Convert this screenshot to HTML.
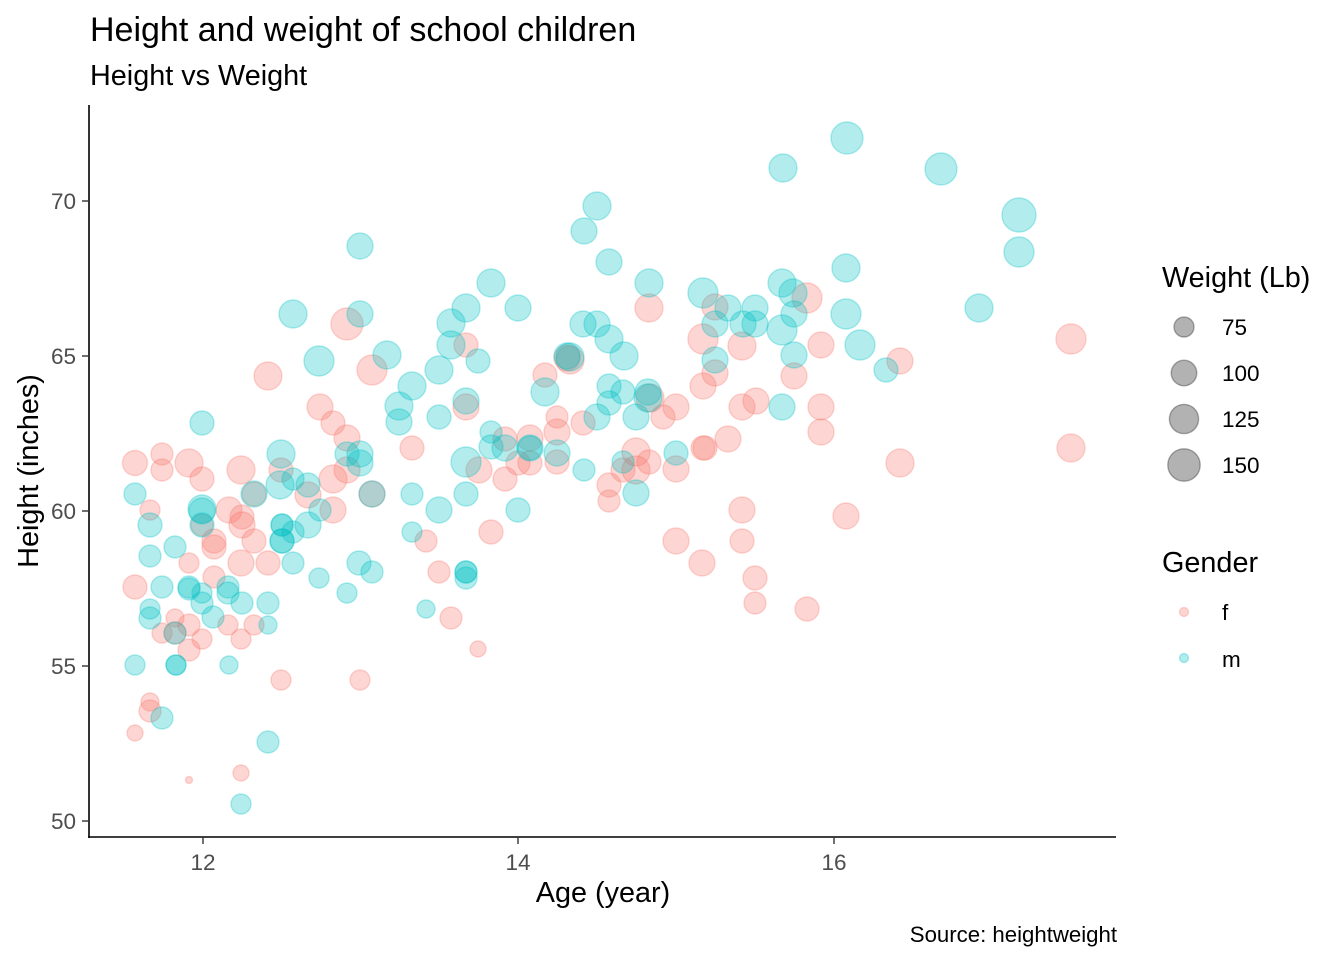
<!DOCTYPE html>
<html><head><meta charset="utf-8"><style>
html,body{margin:0;padding:0;background:#fff;}
svg{display:block;font-family:"Liberation Sans",Arial,sans-serif;}
.f{fill:rgba(248,118,109,0.3);stroke:rgba(248,118,109,0.3);stroke-width:1.4;}
.m{fill:rgba(0,191,196,0.3);stroke:rgba(0,191,196,0.3);stroke-width:1.4;}
.k{fill:rgba(0,0,0,0.3);stroke:rgba(0,0,0,0.3);stroke-width:1.4;}
.tk{fill:#4D4D4D;font-size:22.5px;}
</style></head><body>
<svg width="1344" height="960" viewBox="0 0 1344 960" xmlns="http://www.w3.org/2000/svg">
<rect width="1344" height="960" fill="#fff"/>
<text x="90" y="41" font-size="34" fill="#000">Height and weight of school children</text>
<text x="90" y="85" font-size="28.8" fill="#000">Height vs Weight</text>
<g>
<circle class="f" cx="135" cy="463" r="12.5"/><circle class="f" cx="162" cy="454" r="11"/><circle class="f" cx="162" cy="470" r="11"/><circle class="f" cx="189" cy="463" r="14"/><circle class="f" cx="202" cy="479" r="12"/><circle class="f" cx="241" cy="470" r="14"/><circle class="f" cx="281" cy="470" r="12"/><circle class="f" cx="308" cy="495" r="13"/><circle class="f" cx="333" cy="479" r="14"/><circle class="f" cx="347" cy="470" r="13"/><circle class="f" cx="347" cy="438" r="13"/><circle class="f" cx="333" cy="423" r="12"/><circle class="f" cx="320" cy="407" r="13"/><circle class="f" cx="412" cy="448" r="12"/><circle class="f" cx="150" cy="510" r="10"/><circle class="f" cx="202" cy="525" r="11"/><circle class="f" cx="254" cy="494" r="12"/><circle class="f" cx="229" cy="510" r="13"/><circle class="f" cx="242" cy="517" r="12"/><circle class="f" cx="242" cy="525" r="13"/><circle class="f" cx="254" cy="541" r="12"/><circle class="f" cx="214" cy="541" r="12"/><circle class="f" cx="214" cy="547" r="12"/><circle class="f" cx="333" cy="510" r="13"/><circle class="f" cx="372" cy="494" r="13"/><circle class="f" cx="189" cy="563" r="10"/><circle class="f" cx="214" cy="577" r="11"/><circle class="f" cx="241" cy="563" r="13"/><circle class="f" cx="268" cy="563" r="12"/><circle class="f" cx="135" cy="587" r="12"/><circle class="f" cx="175" cy="618" r="9"/><circle class="f" cx="189" cy="625" r="11"/><circle class="f" cx="162" cy="633" r="10"/><circle class="f" cx="175" cy="633" r="11"/><circle class="f" cx="202" cy="639" r="10"/><circle class="f" cx="228" cy="625" r="10"/><circle class="f" cx="254" cy="625" r="10"/><circle class="f" cx="241" cy="639" r="10"/><circle class="f" cx="189" cy="650" r="11"/><circle class="f" cx="281" cy="680" r="10"/><circle class="f" cx="360" cy="680" r="10"/><circle class="f" cx="150" cy="702" r="9"/><circle class="f" cx="150" cy="711" r="11"/><circle class="f" cx="135" cy="733" r="8"/><circle class="f" cx="241" cy="773" r="8"/><circle class="f" cx="189" cy="780" r="3.5"/><circle class="f" cx="347" cy="324" r="16"/><circle class="f" cx="268" cy="376" r="14"/><circle class="f" cx="372" cy="370" r="15"/><circle class="f" cx="466" cy="345" r="12"/><circle class="f" cx="466" cy="407" r="13"/><circle class="f" cx="545" cy="375" r="12"/><circle class="f" cx="567" cy="358" r="13"/><circle class="f" cx="557" cy="417" r="11"/><circle class="f" cx="557" cy="432" r="13"/><circle class="f" cx="505" cy="439" r="12"/><circle class="f" cx="530" cy="438" r="13"/><circle class="f" cx="479" cy="470" r="13"/><circle class="f" cx="505" cy="479" r="12"/><circle class="f" cx="518" cy="463" r="12"/><circle class="f" cx="530" cy="463" r="12"/><circle class="f" cx="557" cy="462" r="12"/><circle class="f" cx="583" cy="423" r="12"/><circle class="f" cx="663" cy="417" r="12"/><circle class="f" cx="676" cy="407" r="13"/><circle class="f" cx="636" cy="452" r="14"/><circle class="f" cx="623" cy="470" r="12"/><circle class="f" cx="636" cy="470" r="14"/><circle class="f" cx="649" cy="462" r="12"/><circle class="f" cx="676" cy="469" r="13"/><circle class="f" cx="705" cy="448" r="12"/><circle class="f" cx="609" cy="485" r="12"/><circle class="f" cx="609" cy="501" r="11"/><circle class="f" cx="491" cy="532" r="12"/><circle class="f" cx="426" cy="541" r="11"/><circle class="f" cx="439" cy="572" r="11"/><circle class="f" cx="451" cy="618" r="11"/><circle class="f" cx="478" cy="649" r="8"/><circle class="f" cx="676" cy="541" r="13"/><circle class="f" cx="702" cy="563" r="13"/><circle class="f" cx="649" cy="308" r="14"/><circle class="f" cx="715" cy="307" r="13"/><circle class="f" cx="703" cy="339" r="15"/><circle class="f" cx="742" cy="346" r="14"/><circle class="f" cx="807" cy="298" r="15"/><circle class="f" cx="821" cy="345" r="13"/><circle class="f" cx="794" cy="376" r="13"/><circle class="f" cx="715" cy="373" r="13"/><circle class="f" cx="703" cy="386" r="13"/><circle class="f" cx="570" cy="360" r="14"/><circle class="f" cx="650" cy="398" r="14"/><circle class="f" cx="742" cy="407" r="13"/><circle class="f" cx="756" cy="401" r="13"/><circle class="f" cx="821" cy="407" r="13"/><circle class="f" cx="821" cy="432" r="13"/><circle class="f" cx="703" cy="448" r="12"/><circle class="f" cx="728" cy="439" r="13"/><circle class="f" cx="900" cy="463" r="14"/><circle class="f" cx="742" cy="510" r="13"/><circle class="f" cx="846" cy="516" r="13"/><circle class="f" cx="742" cy="541" r="12"/><circle class="f" cx="755" cy="578" r="12"/><circle class="f" cx="755" cy="603" r="11"/><circle class="f" cx="807" cy="609" r="12"/><circle class="f" cx="900" cy="361" r="13"/><circle class="f" cx="1071" cy="339" r="15"/><circle class="f" cx="1071" cy="448" r="14"/>
<circle class="m" cx="202" cy="423" r="12"/><circle class="m" cx="281" cy="454" r="14"/><circle class="m" cx="280" cy="485" r="14"/><circle class="m" cx="293" cy="479" r="11"/><circle class="m" cx="308" cy="485" r="12"/><circle class="m" cx="347" cy="454" r="12"/><circle class="m" cx="360" cy="454" r="13"/><circle class="m" cx="360" cy="463" r="13"/><circle class="m" cx="399" cy="422" r="13"/><circle class="m" cx="135" cy="494" r="11"/><circle class="m" cx="150" cy="525" r="12"/><circle class="m" cx="202" cy="509" r="14"/><circle class="m" cx="202" cy="511" r="13"/><circle class="m" cx="202" cy="525" r="12"/><circle class="m" cx="254" cy="494" r="13"/><circle class="m" cx="282" cy="525" r="11"/><circle class="m" cx="282" cy="525" r="11"/><circle class="m" cx="282" cy="541" r="12"/><circle class="m" cx="282" cy="541" r="12"/><circle class="m" cx="293" cy="532" r="11"/><circle class="m" cx="308" cy="525" r="13"/><circle class="m" cx="320" cy="510" r="11"/><circle class="m" cx="372" cy="494" r="13"/><circle class="m" cx="412" cy="494" r="11"/><circle class="m" cx="412" cy="532" r="10"/><circle class="m" cx="150" cy="556" r="11"/><circle class="m" cx="175" cy="547" r="11"/><circle class="m" cx="293" cy="563" r="11"/><circle class="m" cx="319" cy="578" r="10"/><circle class="m" cx="347" cy="593" r="10"/><circle class="m" cx="359" cy="563" r="12"/><circle class="m" cx="372" cy="572" r="11"/><circle class="m" cx="162" cy="587" r="11"/><circle class="m" cx="189" cy="587" r="11"/><circle class="m" cx="189" cy="589" r="11"/><circle class="m" cx="202" cy="593" r="10"/><circle class="m" cx="202" cy="603" r="11"/><circle class="m" cx="228" cy="587" r="11"/><circle class="m" cx="228" cy="593" r="11"/><circle class="m" cx="242" cy="603" r="11"/><circle class="m" cx="268" cy="603" r="11"/><circle class="m" cx="268" cy="625" r="9"/><circle class="m" cx="213" cy="617" r="11"/><circle class="m" cx="150" cy="609" r="10"/><circle class="m" cx="150" cy="618" r="11"/><circle class="m" cx="175" cy="633" r="11"/><circle class="m" cx="135" cy="665" r="10"/><circle class="m" cx="176" cy="665" r="10"/><circle class="m" cx="176" cy="665" r="10"/><circle class="m" cx="229" cy="665" r="9"/><circle class="m" cx="162" cy="718" r="11"/><circle class="m" cx="268" cy="742" r="11"/><circle class="m" cx="241" cy="804" r="10"/><circle class="m" cx="360" cy="246" r="13"/><circle class="m" cx="293" cy="314" r="14"/><circle class="m" cx="360" cy="314" r="13"/><circle class="m" cx="319" cy="361" r="15"/><circle class="m" cx="387" cy="355" r="14"/><circle class="m" cx="491" cy="283" r="14"/><circle class="m" cx="466" cy="308" r="14"/><circle class="m" cx="518" cy="308" r="13"/><circle class="m" cx="451" cy="323" r="14"/><circle class="m" cx="451" cy="345" r="14"/><circle class="m" cx="478" cy="361" r="12"/><circle class="m" cx="439" cy="370" r="14"/><circle class="m" cx="412" cy="386" r="14"/><circle class="m" cx="399" cy="406" r="14"/><circle class="m" cx="439" cy="417" r="12"/><circle class="m" cx="466" cy="401" r="13"/><circle class="m" cx="545" cy="392" r="14"/><circle class="m" cx="567" cy="356" r="13"/><circle class="m" cx="491" cy="432" r="11"/><circle class="m" cx="491" cy="447" r="12"/><circle class="m" cx="505" cy="448" r="13"/><circle class="m" cx="530" cy="448" r="13"/><circle class="m" cx="530" cy="448" r="12"/><circle class="m" cx="466" cy="462" r="15"/><circle class="m" cx="557" cy="453" r="13"/><circle class="m" cx="584" cy="470" r="11"/><circle class="m" cx="597" cy="417" r="13"/><circle class="m" cx="609" cy="403" r="12"/><circle class="m" cx="636" cy="417" r="13"/><circle class="m" cx="623" cy="462" r="11"/><circle class="m" cx="676" cy="453" r="12"/><circle class="m" cx="636" cy="493" r="13"/><circle class="m" cx="439" cy="510" r="13"/><circle class="m" cx="466" cy="494" r="12"/><circle class="m" cx="518" cy="510" r="12"/><circle class="m" cx="466" cy="572" r="11"/><circle class="m" cx="466" cy="572" r="11"/><circle class="m" cx="466" cy="578" r="11"/><circle class="m" cx="426" cy="609" r="9"/><circle class="m" cx="597" cy="206" r="14"/><circle class="m" cx="584" cy="231" r="13"/><circle class="m" cx="609" cy="262" r="13"/><circle class="m" cx="649" cy="283" r="14"/><circle class="m" cx="703" cy="293" r="15"/><circle class="m" cx="728" cy="308" r="13"/><circle class="m" cx="755" cy="308" r="13"/><circle class="m" cx="715" cy="324" r="13"/><circle class="m" cx="743" cy="324" r="13"/><circle class="m" cx="755" cy="324" r="13"/><circle class="m" cx="782" cy="283" r="14"/><circle class="m" cx="793" cy="293" r="14"/><circle class="m" cx="794" cy="314" r="13"/><circle class="m" cx="782" cy="330" r="15"/><circle class="m" cx="846" cy="268" r="14"/><circle class="m" cx="846" cy="314" r="15"/><circle class="m" cx="860" cy="345" r="15"/><circle class="m" cx="794" cy="355" r="13"/><circle class="m" cx="715" cy="360" r="13"/><circle class="m" cx="583" cy="324" r="13"/><circle class="m" cx="597" cy="324" r="13"/><circle class="m" cx="609" cy="339" r="14"/><circle class="m" cx="624" cy="356" r="14"/><circle class="m" cx="570" cy="357" r="14"/><circle class="m" cx="609" cy="386" r="12"/><circle class="m" cx="623" cy="392" r="12"/><circle class="m" cx="648" cy="392" r="13"/><circle class="m" cx="648" cy="398" r="14"/><circle class="m" cx="782" cy="407" r="13"/><circle class="m" cx="783" cy="168" r="14"/><circle class="m" cx="847" cy="138" r="16"/><circle class="m" cx="941" cy="169" r="16"/><circle class="m" cx="1019" cy="215" r="17"/><circle class="m" cx="1019" cy="252" r="15"/><circle class="m" cx="979" cy="308" r="14"/><circle class="m" cx="886" cy="370" r="12"/>
</g>
<!-- axes -->
<line x1="89" y1="105" x2="89" y2="838" stroke="#000" stroke-width="1.6"/>
<line x1="88.2" y1="837" x2="1116" y2="837" stroke="#000" stroke-width="1.6"/>
<g stroke="#333" stroke-width="1.4">
<line x1="82" y1="201" x2="89" y2="201"/><line x1="82" y1="356" x2="89" y2="356"/><line x1="82" y1="511" x2="89" y2="511"/><line x1="82" y1="666" x2="89" y2="666"/><line x1="82" y1="821" x2="89" y2="821"/>
<line x1="203" y1="837" x2="203" y2="844"/><line x1="518" y1="837" x2="518" y2="844"/><line x1="834" y1="837" x2="834" y2="844"/>
</g>
<g class="tk" text-anchor="end">
<text x="76" y="209">70</text><text x="76" y="364">65</text><text x="76" y="519">60</text><text x="76" y="674">55</text><text x="76" y="829">50</text>
</g>
<g class="tk" text-anchor="middle">
<text x="203" y="870">12</text><text x="518" y="870">14</text><text x="834" y="870">16</text>
</g>
<text x="603" y="902" font-size="28.8" text-anchor="middle" fill="#000">Age (year)</text>
<text transform="translate(38,471) rotate(-90)" font-size="28.8" text-anchor="middle" fill="#000">Height (inches)</text>
<text x="1117" y="942" font-size="22.2" text-anchor="end" fill="#000">Source: heightweight</text>
<!-- legend -->
<text x="1162" y="287" font-size="28.8" fill="#000">Weight (Lb)</text>
<circle class="k" cx="1184" cy="327" r="10"/>
<circle class="k" cx="1184" cy="373" r="12.8"/>
<circle class="k" cx="1184" cy="419" r="14.6"/>
<circle class="k" cx="1184" cy="465" r="16.2"/>
<g font-size="22.5" fill="#000">
<text x="1222" y="335">75</text><text x="1222" y="381">100</text><text x="1222" y="427">125</text><text x="1222" y="473">150</text>
</g>
<text x="1162" y="572" font-size="28.8" fill="#000">Gender</text>
<circle class="f" cx="1184" cy="612" r="4.5"/>
<circle class="m" cx="1184" cy="658" r="4.5"/>
<g font-size="22.5" fill="#000">
<text x="1222" y="620">f</text><text x="1222" y="667">m</text>
</g>
</svg>
</body></html>
